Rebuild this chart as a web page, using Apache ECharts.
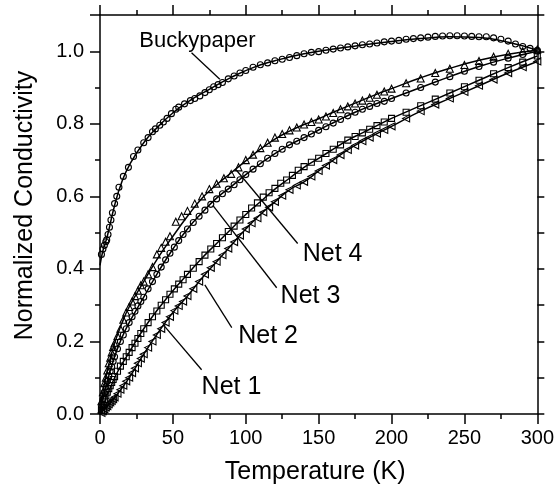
<!DOCTYPE html>
<html>
<head>
<meta charset="utf-8">
<script src="https://cdn.jsdelivr.net/npm/echarts@6/dist/echarts.min.js"></script>
<style>html,body{margin:0;padding:0;background:#fff}#c{width:557px;height:493px}</style>
</head>
<body>
<div id="c"></div>
<script>
// ---- data (T in K, normalized conductivity) ----
var buckyData = [[1,0.44],[2,0.455],[3,0.465],[4,0.475],[4.6,0.48],[5.5,0.495],[6.5,0.515],[7.5,0.535],[8.5,0.555],[10,0.58],[11.5,0.6],[13,0.625],[16,0.655],[19.5,0.68],[23,0.71],[26,0.728],[30,0.748],[33,0.762],[36,0.778],[38,0.786],[41,0.796],[43.5,0.805],[46,0.815],[49,0.828],[52,0.84],[54,0.846],[58,0.855],[62,0.864],[65,0.87],[68.5,0.877],[72,0.886],[75,0.894],[78,0.902],[81,0.908],[84,0.914],[88,0.924],[92,0.932],[96,0.94],[100,0.947],[105,0.956],[110,0.963],[115,0.968],[120,0.974],[125,0.978],[130,0.983],[135,0.988],[140,0.993],[145,0.997],[150,0.999],[155,1.003],[160,1.006],[165,1.009],[170,1.012],[175,1.015],[180,1.018],[185,1.02],[190,1.023],[195,1.026],[200,1.028],[205,1.03],[210,1.033],[215,1.035],[220,1.037],[225,1.039],[230,1.041],[235,1.042],[240,1.043],[245,1.043],[250,1.042],[255,1.041],[260,1.04],[265,1.04],[270,1.037],[275,1.033],[280,1.028],[285,1.02],[290,1.013],[295,1.008],[300,1.003]];
var buckyFit = [[0,0.41],[2,0.45],[5,0.49],[10,0.575],[15,0.64],[20,0.685],[30,0.748],[40,0.793],[50,0.83],[60,0.86],[75,0.895],[90,0.928],[105,0.955],[120,0.974],[140,0.993],[160,1.006],[180,1.017],[200,1.027],[220,1.035],[240,1.04],[260,1.038],[280,1.025],[300,1.003]];

var net4Data = [[1,0.035],[2,0.06],[3,0.085],[4,0.1],[5,0.12],[6,0.14],[7,0.155],[8,0.17],[9,0.185],[10,0.195],[12,0.215],[14,0.235],[16,0.26],[18,0.28],[20,0.295],[22,0.31],[24,0.325],[26,0.34],[28,0.355],[30,0.365],[33,0.385],[36,0.405],[39,0.44],[42,0.458],[45,0.475],[48,0.49],[52,0.53],[56,0.545],[60,0.56],[65,0.58],[70,0.6],[75,0.62],[80,0.635],[85,0.65],[90,0.662],[95,0.68],[100,0.7],[105,0.715],[110,0.733],[115,0.748],[120,0.762],[125,0.772],[130,0.782],[135,0.79],[140,0.798],[145,0.805],[150,0.812],[155,0.82],[160,0.83],[165,0.84],[170,0.848],[175,0.856],[180,0.864],[185,0.872],[190,0.88],[195,0.889],[200,0.897],[210,0.912],[220,0.925],[230,0.94],[240,0.952],[250,0.962],[260,0.973],[270,0.985],[280,0.993],[290,1.0],[300,1.005]];
var net4Fit = [[0,0],[2,0.06],[5,0.12],[10,0.195],[15,0.25],[20,0.295],[30,0.365],[40,0.432],[50,0.49],[60,0.545],[70,0.595],[80,0.632],[90,0.665],[100,0.698],[110,0.73],[120,0.758],[130,0.78],[140,0.798],[150,0.814],[160,0.832],[175,0.857],[190,0.882],[200,0.897],[220,0.927],[240,0.953],[260,0.975],[280,0.992],[300,1.003]];

var net3Data = [[1,0.02],[2,0.04],[3,0.06],[4,0.075],[5,0.09],[6,0.105],[7,0.118],[8,0.13],[9,0.145],[10,0.158],[12,0.18],[14,0.2],[16,0.218],[18,0.235],[20,0.252],[22,0.268],[24,0.283],[26,0.298],[28,0.31],[30,0.322],[33,0.345],[36,0.365],[39,0.385],[42,0.405],[45,0.425],[48,0.443],[51,0.46],[54,0.478],[57,0.495],[60,0.51],[64,0.528],[68,0.545],[72,0.562],[76,0.578],[80,0.593],[84,0.607],[88,0.62],[92,0.632],[96,0.646],[100,0.66],[105,0.675],[110,0.69],[115,0.705],[120,0.718],[125,0.73],[130,0.742],[135,0.752],[140,0.762],[145,0.772],[150,0.782],[155,0.792],[160,0.802],[165,0.812],[170,0.822],[175,0.832],[180,0.84],[185,0.848],[190,0.856],[195,0.862],[200,0.87],[210,0.885],[220,0.9],[230,0.915],[240,0.93],[250,0.945],[260,0.958],[270,0.97],[280,0.981],[290,0.991],[300,1.0]];
var net3Fit = [[0,0],[2,0.04],[5,0.09],[10,0.158],[15,0.21],[20,0.252],[30,0.322],[40,0.392],[50,0.455],[60,0.51],[70,0.555],[80,0.595],[90,0.627],[100,0.66],[110,0.69],[120,0.718],[130,0.742],[140,0.762],[150,0.783],[160,0.803],[175,0.832],[190,0.856],[200,0.87],[220,0.9],[240,0.93],[260,0.958],[280,0.981],[300,1.0]];

var net2Data = [[1,0.01],[2,0.025],[3,0.04],[4,0.05],[5,0.06],[6,0.07],[7,0.078],[8,0.087],[9,0.095],[10,0.103],[12,0.118],[14,0.132],[16,0.145],[18,0.158],[20,0.17],[22,0.183],[24,0.195],[26,0.208],[28,0.222],[30,0.235],[33,0.252],[36,0.268],[39,0.284],[42,0.3],[45,0.315],[48,0.33],[51,0.345],[54,0.358],[57,0.37],[60,0.385],[64,0.402],[68,0.42],[72,0.438],[76,0.455],[80,0.47],[84,0.486],[88,0.503],[92,0.518],[96,0.535],[100,0.55],[104,0.568],[108,0.582],[112,0.598],[116,0.61],[120,0.622],[124,0.636],[128,0.645],[132,0.658],[136,0.672],[140,0.682],[145,0.694],[150,0.705],[155,0.718],[160,0.73],[165,0.742],[170,0.755],[175,0.765],[180,0.775],[185,0.785],[190,0.795],[195,0.805],[200,0.815],[210,0.832],[220,0.85],[230,0.868],[240,0.885],[250,0.902],[260,0.92],[270,0.938],[280,0.955],[290,0.97],[300,0.987]];
var net2Fit = [[0,0],[10,0.1],[20,0.17],[30,0.235],[40,0.29],[50,0.34],[60,0.385],[70,0.43],[80,0.47],[90,0.51],[100,0.55],[110,0.585],[120,0.62],[130,0.65],[140,0.68],[150,0.705],[160,0.73],[170,0.755],[180,0.775],[190,0.795],[200,0.815],[220,0.85],[240,0.885],[260,0.92],[280,0.955],[300,0.987]];

var net1Data = [[1,0.003],[2,0.008],[3,0.013],[4,0.018],[5,0.022],[6,0.027],[7,0.032],[8,0.036],[9,0.041],[10,0.046],[12,0.056],[14,0.067],[16,0.078],[18,0.09],[20,0.1],[22,0.113],[24,0.126],[26,0.14],[28,0.153],[30,0.165],[33,0.183],[36,0.2],[39,0.218],[42,0.235],[45,0.252],[48,0.268],[51,0.285],[54,0.298],[57,0.31],[60,0.325],[64,0.345],[68,0.365],[72,0.385],[76,0.403],[80,0.42],[84,0.438],[88,0.456],[92,0.474],[96,0.492],[100,0.51],[104,0.526],[108,0.54],[112,0.556],[116,0.57],[120,0.585],[125,0.602],[130,0.618],[135,0.63],[140,0.64],[145,0.655],[150,0.67],[155,0.685],[160,0.7],[165,0.714],[170,0.728],[175,0.74],[180,0.752],[185,0.762],[190,0.773],[195,0.783],[200,0.793],[210,0.815],[220,0.835],[230,0.853],[240,0.87],[250,0.888],[260,0.905],[270,0.922],[280,0.94],[290,0.956],[300,0.972]];
var net1Fit = [[0,0],[10,0.045],[20,0.1],[30,0.165],[40,0.225],[50,0.28],[60,0.325],[70,0.375],[80,0.42],[90,0.465],[100,0.51],[110,0.55],[120,0.585],[130,0.618],[140,0.64],[150,0.67],[160,0.7],[170,0.728],[180,0.752],[190,0.773],[200,0.793],[220,0.835],[240,0.87],[260,0.905],[280,0.94],[300,0.972]];

// annotation labels and leader lines (data coordinates)
var labelNames = ['Buckypaper','Net 4','Net 3','Net 2','Net 1'];
var labelPos = [[66.8,1.028],[159.6,0.442],[144.4,0.326],[115.3,0.215],[90.2,0.075]];
var leaders = [
  [[62.8,0.996],[82.2,0.923]],
  [[93.2,0.674],[135.6,0.47]],
  [[77.4,0.575],[121.2,0.348]],
  [[71.9,0.356],[90.4,0.238]],
  [[44.5,0.241],[69.7,0.122]]
];
var xTicks = {min:0, max:300, interval:50};
var yTicks = {min:0, max:1.1, interval:0.2};

var FONT = 'Liberation Sans, Arial, sans-serif';
var chart = echarts.init(document.getElementById('c'), null, {renderer:'canvas'});

function axisCommon(showLabel, pos){
  return {
    axisLine:{show:true, onZero:false, lineStyle:{color:'#000', width:1.5}},
    axisTick:{show:true, inside:false, length: (pos==='right')?7:10, lineStyle:{color:'#000', width:1.5}},
    minorTick:{show:true, splitNumber:2, length: (pos==='right')?7:5, lineStyle:{color:'#000', width:1.5}},
    splitLine:{show:false},
    axisLabel:{show:showLabel}
  };
}
var xBottom = Object.assign({type:'value', position:'bottom', min:xTicks.min, max:xTicks.max, interval:xTicks.interval,
  name:'Temperature (K)', nameLocation:'middle', nameGap:46,
  nameTextStyle:{fontFamily:FONT, fontSize:25, color:'#000', padding:[0,7,0,0]}}, axisCommon(true,'bottom'));
xBottom.axisLabel = {show:true, fontFamily:FONT, fontSize:20, color:'#000', margin:14};
var xTop = Object.assign({type:'value', position:'top', min:xTicks.min, max:xTicks.max, interval:xTicks.interval}, axisCommon(false,'top'));
var yLeft = Object.assign({type:'value', position:'left', min:yTicks.min, max:yTicks.max, interval:yTicks.interval,
  name:'Normalized Conductivity', nameLocation:'middle', nameGap:62,
  nameTextStyle:{fontFamily:FONT, fontSize:25, color:'#000', padding:[0,0,0,18]}}, axisCommon(true,'left'));
yLeft.axisLabel = {show:true, fontFamily:FONT, fontSize:20, color:'#000', margin:16, showMaxLabel:false,
  formatter:function(v){ return v > 1.05 ? '' : v.toFixed(1); }};
var yRight = Object.assign({type:'value', position:'right', min:yTicks.min, max:yTicks.max, interval:yTicks.interval}, axisCommon(false,'right'));

function markers(name, data, symbol, size, rot){
  return {name:name, type:'scatter', data:data, symbol:symbol, symbolSize:size, symbolRotate:rot||0,
    itemStyle:{color:'rgba(0,0,0,0)', borderColor:'#000', borderWidth:1.1, opacity:1}, silent:true, z:2};
}
function fit(name, data){
  return {name:name+' fit', type:'line', data:data, smooth:true, showSymbol:false, symbol:'none',
    lineStyle:{color:'#000', width:1.5}, silent:true, z:3};
}
var series = [
  markers('Buckypaper', buckyData, 'circle', 6),
  markers('Net 4', net4Data, 'triangle', 7),
  markers('Net 3', net3Data, 'circle', 6),
  markers('Net 2', net2Data, 'rect', 6),
  markers('Net 1', net1Data, 'triangle', 7, 90),
  fit('Buckypaper', buckyFit), fit('Net 4', net4Fit), fit('Net 3', net3Fit), fit('Net 2', net2Fit), fit('Net 1', net1Fit)
];
leaders.forEach(function(seg, i){
  series.push({name:'leader'+i, type:'line', data:seg, showSymbol:false, symbol:'none',
    lineStyle:{color:'#000', width:1.3}, silent:true, z:4});
});
var labelData = labelPos.map(function(p,i){
  return {value:[p[0],p[1]], name:labelNames[i], label:{fontSize: i===0 ? 22 : 25}};
});
series.push({name:'labels', type:'scatter', symbolSize:0, silent:true, z:5,
  itemStyle:{opacity:1, color:'#000'},
  data: labelData,
  label:{show:true, position:'inside', color:'#000', fontFamily:FONT, fontSize:25,
    textBorderWidth:0, textBorderColor:'transparent', opacity:1,
    formatter:function(p){ return p.name; }},
  labelLayout:{hideOverlap:false}
});

chart.setOption({
  backgroundColor:'#fff',
  animation:false,
  grid:{left:100, right:19, top:15, bottom:79, containLabel:false},
  xAxis:[xBottom, xTop],
  yAxis:[yLeft, yRight],
  series:series
});
</script>
</body>
</html>
